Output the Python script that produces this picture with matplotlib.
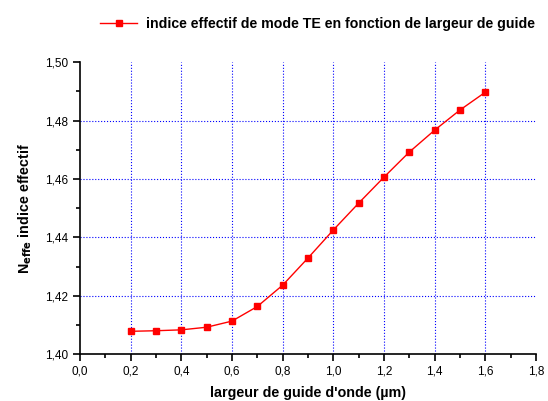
import numpy as np
import matplotlib.pyplot as plt
from matplotlib.ticker import MultipleLocator, FuncFormatter

plt.rcParams['font.family'] = ['Liberation Sans', 'DejaVu Sans']

largeur = [0.2, 0.3, 0.4, 0.5, 0.6, 0.7, 0.8, 0.9, 1.0, 1.1, 1.2, 1.3, 1.4, 1.5, 1.6]
n_eff = [1.4078, 1.4080, 1.4083, 1.4092, 1.4113, 1.4163, 1.4236, 1.4329,
         1.4425, 1.4517, 1.4606, 1.4692, 1.4767, 1.4836, 1.4897]
legende = "indice effectif de mode TE en fonction de largeur de guide"

fig = plt.figure(figsize=(5.48, 4.01), dpi=100)
ax = fig.add_axes([0.146, 0.117, 0.832, 0.728])

line, = ax.plot(largeur, n_eff, color='red', lw=1, marker='s', ms=5,
                markerfacecolor='red', markeredgecolor='red', label=legende)

ax.set_xlim(0, 1.8)
ax.set_ylim(1.40, 1.50)
ax.xaxis.set_major_locator(MultipleLocator(0.2))
ax.xaxis.set_minor_locator(MultipleLocator(0.1))
ax.yaxis.set_major_locator(MultipleLocator(0.02))
ax.yaxis.set_minor_locator(MultipleLocator(0.01))
ax.xaxis.set_major_formatter(FuncFormatter(lambda v, p: ("%.1f" % v).replace('.', ',')))
ax.yaxis.set_major_formatter(FuncFormatter(lambda v, p: ("%.2f" % v).replace('.', ',')))

for s in ['top', 'right']:
    ax.spines[s].set_visible(False)
for s in ['left', 'bottom']:
    ax.spines[s].set_linewidth(1.2)
ax.tick_params(which='major', direction='out', length=5, width=1.2, labelsize=8.5)
ax.tick_params(which='minor', direction='out', length=3, width=1.2)

# grille en pointillé bleu, sans ligne aux bords
for xv in np.arange(0.2, 1.7, 0.2):
    ax.axvline(xv, color='blue', ls=':', lw=0.8, zorder=0)
for yv in [1.42, 1.44, 1.46, 1.48]:
    ax.axhline(yv, color='blue', ls=':', lw=0.8, zorder=0)

ax.set_xlabel("largeur de guide d'onde (µm)", fontsize=10.3, fontweight='bold', labelpad=6)
ax.set_ylabel(r"N$_{\mathbf{effe}}$ indice effectif", fontsize=10.3, fontweight='bold', labelpad=8)

fig.legend(handles=[line], loc='center left', bbox_to_anchor=(0.16, 0.94),
           frameon=False, handlelength=2.6, handletextpad=0.6,
           prop={'weight': 'bold', 'size': 10.2})

fig.savefig('out.png', dpi=100)
